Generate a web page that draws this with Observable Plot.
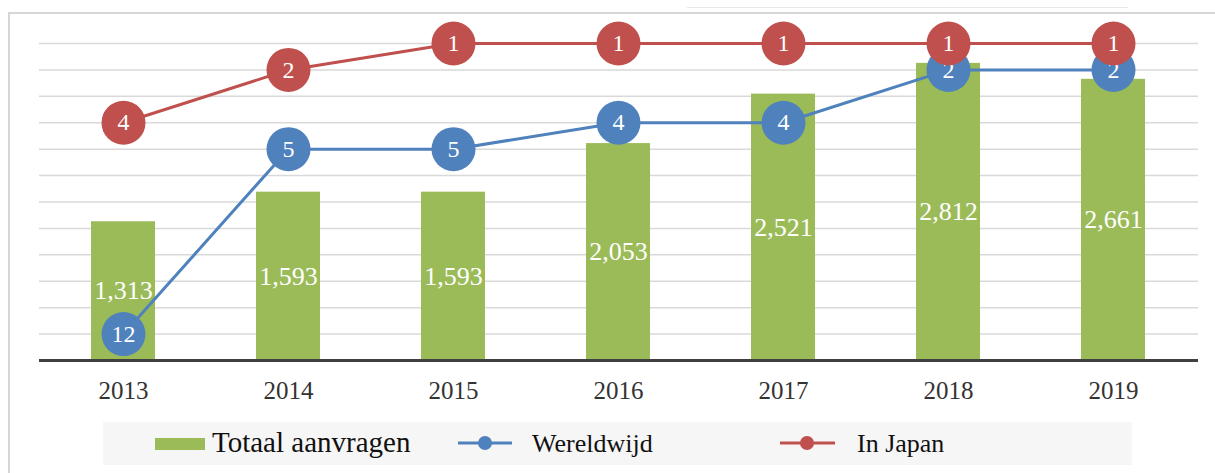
<!DOCTYPE html>
<html><head><meta charset="utf-8">
<script src="https://cdn.jsdelivr.net/npm/d3@7"></script>
<script src="https://cdn.jsdelivr.net/npm/@observablehq/plot@0.6"></script>
<style>
body{margin:0;background:#fff;font-family:"Liberation Serif",serif;}
#wrap{position:relative;width:1215px;height:473px;overflow:hidden;background:#fff;}
#frame{position:absolute;left:8px;top:12px;width:1300px;height:600px;border-left:2px solid #d6d6d6;border-top:2px solid #d6d6d6;}
#topline{position:absolute;left:687px;top:7px;width:441px;height:0;border-top:1px solid #e8e8e8;}
#chart{position:absolute;left:0;top:0;}
#legend{position:absolute;left:103px;top:422px;}
</style></head>
<body>
<div id="wrap">
  <div id="frame"></div>
  <div id="topline"></div>
  <div id="chart"></div>
  <div id="legend"></div>
</div>
<script>
const years = ["2013","2014","2015","2016","2017","2018","2019"];
const totaal = [1313,1593,1593,2053,2521,2812,2661];
const wereldwijd = [12,5,5,4,4,2,2];
const inJapan = [4,2,1,1,1,1,1];
const gridValues = [250,500,750,1000,1250,1500,1750,2000,2250,2500,2750,3000];
const seriesNames = ["Totaal aanvragen","Wereldwijd","In Japan"];
const colors = {bar:"#9bbb59", blue:"#4f81bd", red:"#c0504d"};

const data = years.map((y,i)=>({year:y, totaal:totaal[i], wereldwijd:wereldwijd[i], japan:inJapan[i]}));
// rank axis (secondary, inverted): rank 1 at top gridline, one gridline per rank
const rankY = r => 3000 - (r-1)*250;
const fmt = d3.format(",");

const chart = Plot.plot({
  width:1215, height:410,
  marginLeft:39, marginRight:17, marginTop:43, marginBottom:50,
  style:{fontFamily:"Liberation Serif, serif", background:"transparent"},
  x:{type:"band", domain:years, paddingInner:0.61, paddingOuter:0.305, label:null},
  y:{domain:[0,3000], axis:null},
  marks:[
    Plot.ruleY(gridValues, {stroke:"#d9d9d9", strokeWidth:1.5}),
    Plot.barY(data, {x:"year", y:"totaal", fill:colors.bar}),
    Plot.ruleY([0], {stroke:"#404040", strokeWidth:3}),
    Plot.axisX({tickSize:0, tickPadding:21, fontSize:25, fill:"#333", label:null}),
    Plot.text(data, {x:"year", y:d=>d.totaal/2, text:d=>fmt(d.totaal), fill:"white", fontSize:26}),
    Plot.line(data, {x:"year", y:d=>rankY(d.wereldwijd), stroke:colors.blue, strokeWidth:3}),
    Plot.dot(data, {x:"year", y:d=>rankY(d.wereldwijd), r:22, fill:colors.blue, stroke:"none"}),
    Plot.text(data, {x:"year", y:d=>rankY(d.wereldwijd), text:d=>String(d.wereldwijd), fill:"white", fontSize:24}),
    Plot.line(data, {x:"year", y:d=>rankY(d.japan), stroke:colors.red, strokeWidth:3}),
    Plot.dot(data, {x:"year", y:d=>rankY(d.japan), r:22, fill:colors.red, stroke:"none"}),
    Plot.text(data, {x:"year", y:d=>rankY(d.japan), text:d=>String(d.japan), fill:"white", fontSize:24})
  ]
});
document.getElementById("chart").appendChild(chart);

// legend
const lg = d3.select("#legend").append("svg").attr("width",1029).attr("height",43)
  .style("font-family","Liberation Serif, serif");
lg.append("rect").attr("width",1029).attr("height",43).attr("fill","#f6f6f6");
lg.append("rect").attr("x",52).attr("y",16).attr("width",50).attr("height",12).attr("fill",colors.bar);
lg.append("text").attr("x",109).attr("y",30).attr("font-size",29).attr("fill","#111").text(seriesNames[0]);
lg.append("line").attr("x1",355).attr("x2",409).attr("y1",21).attr("y2",21).attr("stroke",colors.blue).attr("stroke-width",3);
lg.append("circle").attr("cx",382).attr("cy",21).attr("r",7).attr("fill",colors.blue);
lg.append("text").attr("x",429).attr("y",30).attr("font-size",26).attr("fill","#111").text(seriesNames[1]);
lg.append("line").attr("x1",677).attr("x2",732).attr("y1",21).attr("y2",21).attr("stroke",colors.red).attr("stroke-width",3);
lg.append("circle").attr("cx",704).attr("cy",21).attr("r",7).attr("fill",colors.red);
lg.append("text").attr("x",754).attr("y",30).attr("font-size",26).attr("fill","#111").text(seriesNames[2]);
</script>
</body></html>
